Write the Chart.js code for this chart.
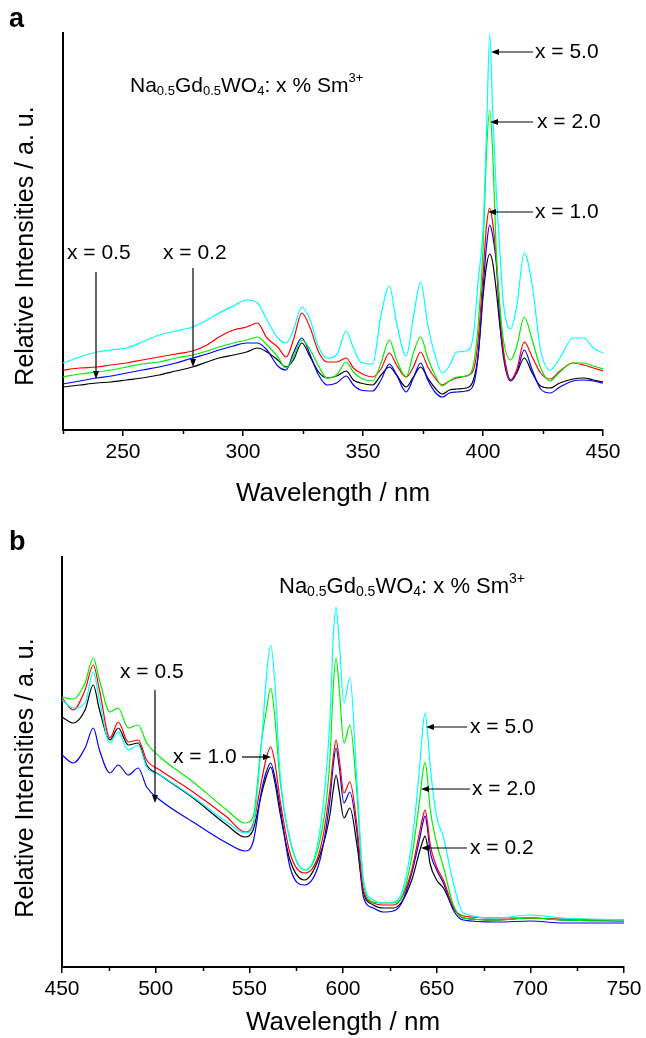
<!DOCTYPE html>
<html><head><meta charset="utf-8">
<script src="https://cdn.jsdelivr.net/npm/chart.js@4.4.0/dist/chart.umd.min.js"></script>
<style>
html,body{margin:0;padding:0;background:#fff;}
#wrap{position:relative;width:646px;height:1038px;overflow:hidden;}
canvas{position:absolute;left:0;}
</style></head><body>
<div id="wrap">
<canvas id="ca" width="646" height="515" style="top:0px"></canvas>
<canvas id="cb" width="646" height="523" style="top:515px"></canvas>
</div>
<script>
// ---------- Panel a : excitation spectra ----------
const wavelengthA = [225,232,239,245,251.5,258,265,272,279,285,290,296,301.5,306,310,314.5,318,321,324.5,328,331.5,335,339,343,346,349,354,357.5,361,364,368,371,374,377,380,383,386,389,393,396,398,400,401.5,402.8,404,405.5,407,408.5,411.5,414,417.2,420.5,424,428,432,437.5,442,446,450];
const aX50 = [67,73,78,80,82,88,95,99,103,110,117,124,130,127,110,92,87,100,123,110,83,72,75,99,82,68,66,115,144,107,74,113,148,105,75,57,64,78,79,95,150,200,300,396,320,240,180,127,101,123,177,145,80,60,72,92,92,82,77];
const aX20 = [53,56,58,60,63,66,68,72,75,79,83,87,90,93,85,73,62,73,90,80,64,52,55,68,58,52,49,67,90,70,53,77,93,72,55,44,49,53,54,65,105,180,280,320,280,180,125,90,70,83,113,90,62,49,58,67,67,64,61];
const aX10 = [60,62,63,65,67,70,73,76,79,85,93,100,103,107,92,83,73,90,117,102,78,68,68,72,62,57,53,61,77,65,53,63,78,63,52,45,49,52,54,60,90,155,205,222,208,172,120,80,50,60,88,73,57,51,59,67,65,62,59];
const aX05 = [46,49,52,54,57,60,63,67,72,76,80,84,87,87,80,64,60,77,92,75,55,45,47,54,45,40,39,50,66,55,38,52,67,50,38,33,37,38,39,45,75,140,185,205,195,168,110,73,49,57,80,60,41,37,43,49,50,49,47];
const aX02 = [43,45,47,48,50,52,55,59,63,68,72,75,78,82,78,70,63,70,87,73,58,52,54,59,50,47,45,55,63,55,43,53,63,52,42,36,40,41,42,50,75,133,165,176,168,140,105,77,50,57,72,57,44,42,47,51,52,50,48];
const ticksMajorA = [250,300,350,400,450];
const ticksMinorA = [225,275,325,375,425];

// ---------- Panel b : emission spectra ----------
const wavelengthB = [450,456,462.3,466.7,470,475.6,480,485.4,490.7,495.2,502.3,520,538,547.7,552,556.6,559.2,561.4,563.6,566.4,571.7,579.4,587.7,593,594.8,596.3,598,600.5,603.7,607.3,610.9,616.2,621.5,626.9,631.3,636.7,641.1,642.6,643.8,645,646.4,650,653.6,658.9,664.2,682,700,717.6,750];
const bX50 = [267,259,264,295,267,224,235,217,222,200,192,170,145,134,141,227,292,322,285,194,127,97,137,247,330,360,325,264,290,190,87,67,64,65,74,124,204,240,254,238,204,150,130,84,54,49,52,49,47];
const bX20 = [270,268,284,309,287,255,259,239,242,224,210,185,157,144,150,227,258,279,250,187,127,97,127,207,280,309,278,224,242,177,84,65,64,64,70,110,170,195,205,190,160,124,100,62,49,47,49,47,46];
const bX10 = [269,257,277,302,277,229,245,225,227,207,197,175,150,135,143,187,210,220,205,167,114,94,117,177,210,227,208,174,185,144,77,64,62,62,69,97,137,150,157,146,124,100,87,60,51,49,49,48,47];
const bX05 = [212,204,219,239,217,194,202,192,199,180,167,145,124,116,125,177,196,204,190,160,100,82,107,167,202,219,200,164,175,137,70,59,55,56,64,94,130,144,151,140,117,97,84,57,47,45,46,44,44];
const bX02 = [250,244,257,282,257,227,239,222,224,202,192,169,142,130,137,174,191,200,185,154,107,87,112,152,177,192,175,149,159,124,75,62,59,59,65,87,117,126,131,122,104,87,79,59,49,47,49,47,46];
const ticksMajorB = [450,500,550,600,650,700,750];
const ticksMinorB = [475,525,575,625,675,725];

const FAM = '"Liberation Sans", Arial, Helvetica, sans-serif';
const COLORS = {x02:'#000000', x05:'#0000ff', x10:'#ff0000', x20:'#00f000', x50:'#00ffff'};

function arrow(ctx, x1, y1, x2, y2) {
  const ang = Math.atan2(y2 - y1, x2 - x1);
  const L = 8, W = 3;
  ctx.beginPath();
  ctx.moveTo(x1, y1);
  ctx.lineTo(x2 - Math.cos(ang) * L * 0.6, y2 - Math.sin(ang) * L * 0.6);
  ctx.stroke();
  ctx.beginPath();
  ctx.moveTo(x2, y2);
  ctx.lineTo(x2 - L * Math.cos(ang) + W * Math.sin(ang), y2 - L * Math.sin(ang) - W * Math.cos(ang));
  ctx.lineTo(x2 - L * Math.cos(ang) - W * Math.sin(ang), y2 - L * Math.sin(ang) + W * Math.cos(ang));
  ctx.closePath();
  ctx.fill();
}

function formula(ctx, x, y, big, small) {
  const parts = [
    ['Na', big, 0], ['0.5', small, 3], ['Gd', big, 0], ['0.5', small, 3], ['WO', big, 0], ['4', small, 3],
    [': x % Sm', big, 0], ['3+', small, -10]
  ];
  ctx.textBaseline = 'alphabetic';
  ctx.textAlign = 'left';
  let cx = x;
  for (const [t, s, dy] of parts) {
    ctx.font = s + 'px ' + FAM;
    ctx.fillText(t, cx, y + dy);
    cx += ctx.measureText(t).width;
  }
}

const annotPlugin = {
  id: 'annot',
  afterDraw(chart, args, opts) {
    const ctx = chart.ctx;
    const xs = chart.scales.x;
    const bottom = chart.chartArea.bottom;
    ctx.save();
    ctx.strokeStyle = '#000'; ctx.fillStyle = '#000';
    // minor ticks
    ctx.lineWidth = 1.5;
    for (const v of opts.minor) {
      const px = Math.round(xs.getPixelForValue(v)) + 0.5;
      ctx.beginPath(); ctx.moveTo(px, bottom); ctx.lineTo(px, bottom + 4); ctx.stroke();
    }
    // y axis title
    ctx.save();
    ctx.translate(opts.ytitle[0], opts.ytitle[1]);
    ctx.rotate(-Math.PI / 2);
    ctx.font = '25px ' + FAM;
    ctx.textAlign = 'center'; ctx.textBaseline = 'middle';
    ctx.fillText('Relative Intensities / a. u.', 0, 0);
    ctx.restore();
    // panel letter
    ctx.font = 'bold 27px ' + FAM;
    ctx.textBaseline = 'middle'; ctx.textAlign = 'left';
    ctx.fillText(opts.letter[0], opts.letter[1], opts.letter[2]);
    // formula
    formula(ctx, opts.formula[0], opts.formula[1], opts.formula[2], opts.formula[3]);
    // labels
    ctx.font = '21px ' + FAM;
    ctx.textBaseline = 'middle'; ctx.textAlign = 'left';
    for (const l of opts.labels) ctx.fillText(l[0], l[1], l[2]);
    ctx.lineWidth = 1.2;
    for (const a of opts.arrows) arrow(ctx, a[0], a[1], a[2], a[3]);
    ctx.restore();
  }
};

function ds(label, xs, ys, color) {
  return {
    label, data: xs.map((x, i) => ({x, y: ys[i]})),
    borderColor: color, borderWidth: 1.2, pointRadius: 0,
    cubicInterpolationMode: 'monotone', fill: false
  };
}

function makeChart(id, cfg) {
  return new Chart(document.getElementById(id), {
    type: 'line',
    data: {
      datasets: [
        ds('x = 5.0', cfg.xs, cfg.s50, COLORS.x50),
        ds('x = 2.0', cfg.xs, cfg.s20, COLORS.x20),
        ds('x = 1.0', cfg.xs, cfg.s10, COLORS.x10),
        ds('x = 0.5', cfg.xs, cfg.s05, COLORS.x05),
        ds('x = 0.2', cfg.xs, cfg.s02, COLORS.x02)
      ]
    },
    options: {
      responsive: false, animation: false, devicePixelRatio: 1,
      layout: {padding: {top: cfg.padTop, right: cfg.padRight, left: 0, bottom: 0}},
      plugins: {legend: {display: false}, tooltip: {enabled: false}, annot: cfg.annot},
      scales: {
        x: {
          type: 'linear', min: cfg.xmin, max: cfg.xmax,
          afterBuildTicks: s => { s.ticks = cfg.major.map(v => ({value: v})); },
          afterFit: s => { s.height = cfg.xh; },
          grid: {drawOnChartArea: false, drawTicks: true, tickLength: 6, color: '#000', lineWidth: 1.5},
          border: {display: true, color: '#000', width: 2},
          ticks: {color: '#000', font: {family: FAM, size: 21}, padding: 4, maxRotation: 0, autoSkip: false,
                  callback: v => String(v)},
          title: {display: true, text: 'Wavelength / nm', color: '#000', font: {family: FAM, size: 26},
                  padding: {top: 0, bottom: cfg.titlePad}}
        },
        y: {
          type: 'linear', min: 0, max: cfg.ymax,
          afterFit: s => { s.width = cfg.left; },
          grid: {display: false},
          border: {display: true, color: '#000', width: 2},
          ticks: {display: false},
          title: {display: false}
        }
      }
    },
    plugins: [annotPlugin]
  });
}

makeChart('ca', {
  xs: wavelengthA, s50: aX50, s20: aX20, s10: aX10, s05: aX05, s02: aX02,
  xmin: 225, xmax: 450, ymax: 397, major: ticksMajorA,
  padTop: 33, padRight: 43, left: 63, xh: 85, titlePad: 6,
  annot: {
    minor: ticksMinorA, ytitle: [26, 246], letter: ['a', 9, 20], formula: [130, 92, 21, 13],
    labels: [['x = 5.0', 535, 52], ['x = 2.0', 537, 122], ['x = 1.0', 535, 212], ['x = 0.5', 67, 253], ['x = 0.2', 163, 253]],
    arrows: [[533, 52, 491, 52], [533, 122, 490, 122], [533, 212, 488, 212], [96, 272, 96, 379], [193, 268, 193, 367]]
  }
});

makeChart('cb', {
  xs: wavelengthB, s50: bX50, s20: bX20, s10: bX10, s05: bX05, s02: bX02,
  xmin: 450, xmax: 750, ymax: 410, major: ticksMajorB,
  padTop: 42, padRight: 22, left: 62, xh: 71, titlePad: 0,
  annot: {
    minor: ticksMinorB, ytitle: [26, 263], letter: ['b', 9, 28], formula: [279, 78, 22, 14],
    labels: [['x = 0.5', 120, 157], ['x = 1.0', 173, 242], ['x = 5.0', 470, 212], ['x = 2.0', 472, 274], ['x = 0.2', 470, 333]],
    arrows: [[155, 175, 155, 288], [242, 242, 271, 242], [467, 212, 426, 212], [470, 274, 421, 274], [467, 333, 421, 333]]
  }
});
</script>
</body></html>
